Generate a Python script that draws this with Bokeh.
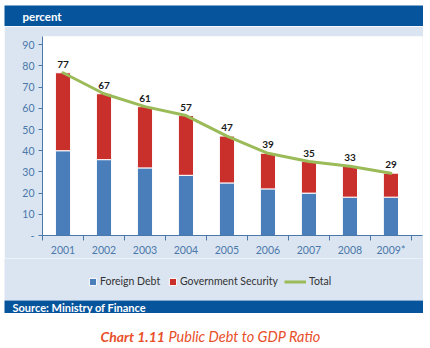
from bokeh.plotting import figure
from bokeh.layouts import column
from bokeh.models import (Range1d, FixedTicker, Label, Legend, LegendItem,
                          ColumnDataSource)
from bokeh.embed import file_html
from bokeh.resources import INLINE
from bokeh.core.properties import value

# ---- data ----
years = ["2001", "2002", "2003", "2004", "2005", "2006", "2007", "2008", "2009*"]
foreign_debt = [40.0, 35.8, 31.9, 28.4, 24.8, 22.0, 20.0, 18.1, 18.1]
government_security = [36.8, 31.1, 28.9, 28.2, 22.1, 16.8, 14.9, 14.6, 11.3]
total = [76.8, 66.9, 60.8, 56.6, 46.9, 38.8, 34.9, 32.7, 29.4]
total_labels = ["77", "67", "61", "57", "47", "39", "35", "33", "29"]
y_ticks = [0, 10, 20, 30, 40, 50, 60, 70, 80, 90]
y_tick_labels = ["-", "10", "20", "30", "40", "50", "60", "70", "80", "90"]

# ---- styles ----
BLUE = "#4a7ebb"
RED = "#c9302c"
GREEN = "#9bbb59"
HEADER = "#06559c"
LIGHT = "#dbe5f1"
AXIS = "#4a78aa"
AXIS_TEXT = "#4a78aa"
CAPTION = "#e8502a"
FONT = "Lato"
W = 419


def blank(width, height, fill, margin):
    f = figure(width=width, height=height, output_backend="svg",
               toolbar_location=None, x_axis_location=None, y_axis_location=None,
               x_range=Range1d(-2, -1), y_range=Range1d(-2, -1), min_border=0,
               margin=margin, frame_align=False)
    f.outline_line_color = None
    f.border_fill_color = fill
    f.background_fill_color = fill
    f.xgrid.grid_line_color = None
    f.ygrid.grid_line_color = None
    return f


# ---- header ----
head = blank(W, 21, HEADER, (5, 7, 0, 4))
head.add_layout(Label(x=18, y=10.5, x_units="screen", y_units="screen",
                      text="percent", text_baseline="middle", text_color="white",
                      text_font=FONT, text_font_style="bold", text_font_size="11.5px"))

# ---- main chart ----
xs = [i + 0.5 for i in range(len(years))]
src = ColumnDataSource(dict(x=xs, foreign=foreign_debt, gov=government_security,
                            total=total, label=total_labels))

p = figure(width=W, height=232, output_backend="svg", toolbar_location=None,
           x_range=Range1d(0, 9.27), y_range=Range1d(0, 93.9),
           min_border_left=38, min_border_right=1, min_border_top=10,
           min_border_bottom=23, margin=(0, 7, 0, 4), frame_align=False)
p.outline_line_color = None
p.border_fill_color = LIGHT
p.background_fill_color = "white"
p.xgrid.grid_line_color = None
p.ygrid.grid_line_color = None

bars = p.vbar_stack(["foreign", "gov"], x="x", width=0.37, source=src,
                    fill_color=[BLUE, RED], line_color="white", line_width=1)
line = p.line(x="x", y="total", source=src, line_color=GREEN, line_width=3,
              line_join="round", line_cap="round")
p.text(x="x", y="total", text="label", source=src, text_align="center",
       text_baseline="bottom", y_offset=-5, text_font=value(FONT),
       text_font_style="bold", text_font_size="10px", text_color="#1a1a1a")

xa = p.xaxis[0]
xa.ticker = FixedTicker(ticks=xs, minor_ticks=list(range(len(years) + 1)))
xa.major_label_overrides = {x: y for x, y in zip(xs, years)}
xa.major_tick_out = 0
xa.major_tick_in = 0
xa.minor_tick_out = 5
xa.minor_tick_in = 0
xa.minor_tick_line_color = AXIS
xa.axis_line_color = AXIS
xa.major_label_standoff = 3
xa.major_label_text_font = FONT
xa.major_label_text_font_size = "10.5px"
xa.major_label_text_color = AXIS_TEXT

ya = p.yaxis[0]
ya.ticker = FixedTicker(ticks=y_ticks, minor_ticks=[])
ya.major_label_overrides = {t: l for t, l in zip(y_ticks, y_tick_labels)}
ya.major_tick_out = 4
ya.major_tick_in = 0
ya.major_tick_line_color = AXIS
ya.axis_line_color = AXIS
ya.major_label_standoff = 4
ya.major_label_text_font = FONT
ya.major_label_text_font_size = "10.5px"
ya.major_label_text_color = AXIS_TEXT

# ---- legend strip (proxies share the data source, drawn outside its ranges) ----
leg = blank(W, 42, LIGHT, (0, 7, 0, 4))
r_fd = leg.vbar(x="x", top="foreign", source=src, width=0.37,
                fill_color=BLUE, line_color="white")
r_gs = leg.vbar(x="x", top="gov", source=src, width=0.37,
                fill_color=RED, line_color="white")
r_tot = leg.line(x="x", y="total", source=src, line_color=GREEN, line_width=3)


def make_legend(label, rend, vx, gw):
    lg = Legend(items=[LegendItem(label=label, renderers=[rend])],
                location=(vx, 13), orientation="horizontal", padding=0,
                margin=0, spacing=0, glyph_width=gw, glyph_height=9,
                label_height=12, label_standoff=3, border_line_alpha=0,
                background_fill_alpha=0, label_text_font=FONT,
                label_text_font_size="10.5px", label_text_color="#333333")
    leg.add_layout(lg, "center")


make_legend("Foreign Debt", r_fd, 84, 9)
make_legend("Government Security", r_gs, 164, 9)
make_legend("Total", r_tot, 280, 22)

# ---- footer ----
foot = blank(W, 13, HEADER, (0, 7, 0, 4))
foot.add_layout(Label(x=8, y=6.5, x_units="screen", y_units="screen",
                      text="Source: Ministry of Finance", text_baseline="middle",
                      text_color="white", text_font=FONT, text_font_style="bold",
                      text_font_size="11px"))

# ---- caption ----
cap = blank(430, 35, "white", (0, 0, 0, 0))
cap.add_layout(Label(x=100, y=12, x_units="screen", y_units="screen",
                     text="Chart 1.11", text_baseline="middle", text_color=CAPTION,
                     text_font=FONT, text_font_style="bold italic",
                     text_font_size="14px"))
cap.add_layout(Label(x=168, y=12, x_units="screen", y_units="screen",
                     text="Public Debt to GDP Ratio", text_baseline="middle",
                     text_color=CAPTION, text_font=FONT, text_font_style="italic",
                     text_font_size="14.5px"))

layout = column(head, p, leg, foot, cap, spacing=0)
open("out.html", "w").write(file_html(layout, INLINE))
